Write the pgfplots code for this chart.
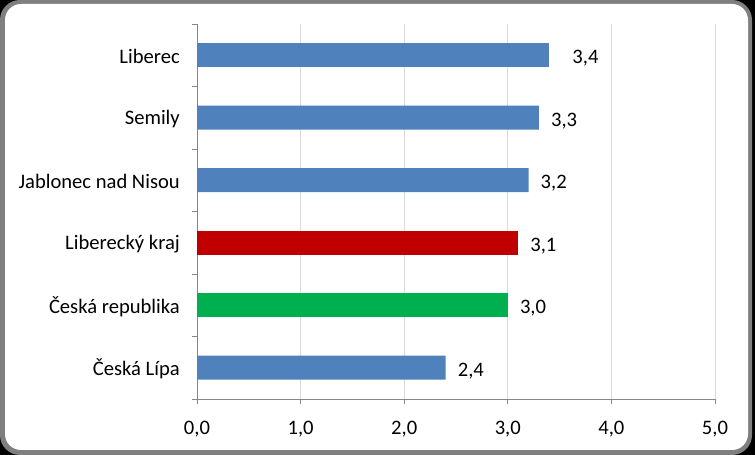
\documentclass[border=0pt]{standalone}
\usepackage{pgfplots}
\pgfplotsset{compat=1.18}
\usepackage{fontspec}
\setmainfont{Carlito}
\definecolor{barblue}{HTML}{4F81BD}
\definecolor{barred}{HTML}{C00000}
\definecolor{bargreen}{HTML}{00B050}
\definecolor{axgray}{HTML}{868686}
\definecolor{gridgray}{HTML}{D9D9D9}
\definecolor{framegray}{HTML}{7F7F7F}
\begin{document}
\begin{tikzpicture}[x=1bp,y=1bp,font=\fontsize{20.6bp}{24bp}\selectfont]
\fill[black] (0,0) rectangle (755,455);
\fill[framegray, rounded corners=20bp] (0,0) rectangle (752,455);
\fill[white, rounded corners=16bp] (5,5) rectangle (748,451);
\begin{axis}[
  at={(197bp,56bp)}, anchor=south west,
  width=518bp, height=375bp, scale only axis,
  xbar, bar width=24bp, bar shift=0pt,
  xmin=0, xmax=5, ymin=-0.5, ymax=5.5,
  axis x line*=bottom, axis y line*=left,
  axis line style={draw=axgray, line width=0.8bp, -},
  xtick={0,1,2,3,4,5},
  xmajorgrids, grid style={draw=gridgray, line width=0.8bp},
  x tick style={draw=axgray, line width=0.8bp},
  tick align=outside, major tick length=5bp,
  xticklabel style={inner sep=0pt, yshift=-17bp,
    /pgf/number format/.cd, fixed, fixed zerofill, precision=1, use comma, assume math mode=true},
  ytick={0,1,2,3,4,5},
  yticklabels={Česká Lípa, Česká republika, Liberecký kraj, Jablonec nad Nisou, Semily, Liberec},
  y tick style={draw=none},
  yticklabel style={inner sep=0pt, xshift=-12bp, yshift=-1bp},
  extra y ticks={-0.5,0.5,1.5,2.5,3.5,4.5,5.5},
  extra y tick labels={},
  extra y tick style={y tick style={draw=axgray, line width=0.8bp}, major tick length=5bp, tick align=outside, grid=none},
  point meta=x,
  nodes near coords={\pgfmathprintnumber[fixed,fixed zerofill,precision=1,use comma,assume math mode=true]{\pgfplotspointmeta}},
  every node near coord/.append style={anchor=west, inner sep=0pt, xshift=12bp, yshift=-3bp, text=black},
  clip=false,
]
\addplot[fill=barblue, draw=none] coordinates {(2.4,0) (3.2,3) (3.3,4)};
\addplot[fill=barblue, draw=none, every node near coord/.append style={xshift=11bp}] coordinates {(3.4,5)};
\addplot[fill=barred, draw=none] coordinates {(3.1,2)};
\addplot[fill=bargreen, draw=none] coordinates {(3.0,1)};
\end{axis}
\end{tikzpicture}
\end{document}
